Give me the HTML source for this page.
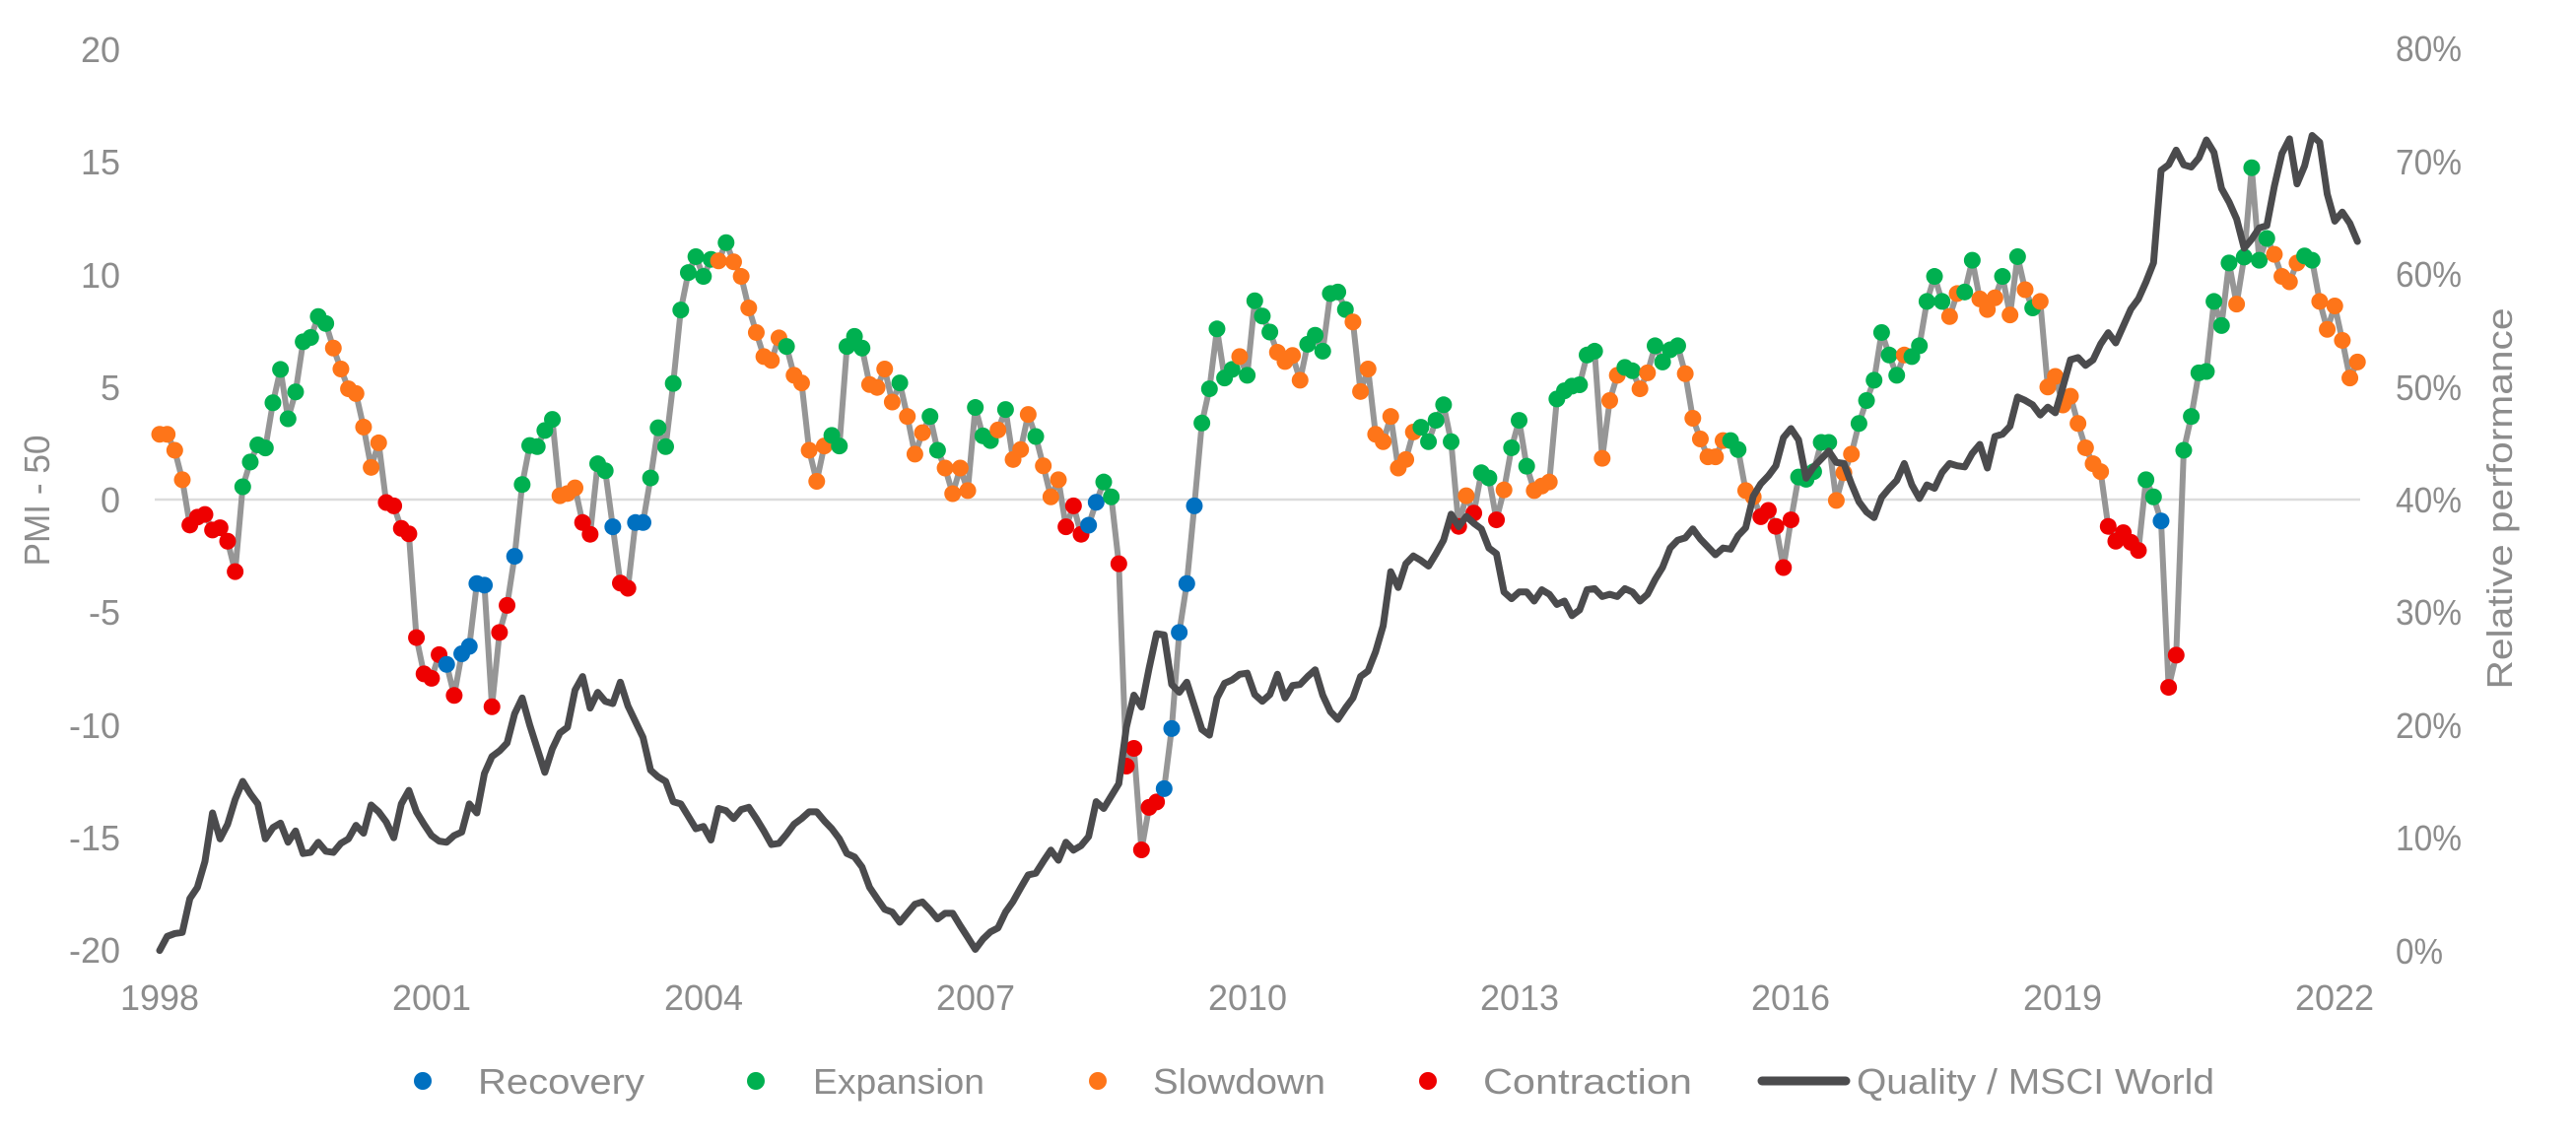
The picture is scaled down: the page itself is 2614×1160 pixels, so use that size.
<!DOCTYPE html>
<html><head><meta charset="utf-8"><style>
html,body{margin:0;padding:0;background:#fff;}
svg{display:block;}
text{font-family:"Liberation Sans",sans-serif;fill:#8c8c8c;font-size:36px;}
.dot{fill:none;stroke-linecap:round;stroke-width:17px;}
.o{stroke:#fe7519}.g{stroke:#00b050}.b{stroke:#0070c0}.r{stroke:#ee0000}
</style></head><body>
<svg width="2614" height="1160" viewBox="0 0 2614 1160" xmlns="http://www.w3.org/2000/svg">
<rect width="2614" height="1160" fill="#fff"/>
<line x1="157" y1="507" x2="2395" y2="507" stroke="#dcdcdc" stroke-width="2.5"/>
<g text-anchor="end">
<text x="122" y="63">20</text>
<text x="122" y="177">15</text>
<text x="122" y="292">10</text>
<text x="122" y="406">5</text>
<text x="122" y="520">0</text>
<text x="122" y="634">-5</text>
<text x="122" y="749">-10</text>
<text x="122" y="863">-15</text>
<text x="122" y="977">-20</text>
</g>
<g>
<text x="2431" y="62" textLength="67" lengthAdjust="spacingAndGlyphs">80%</text>
<text x="2431" y="177" textLength="67" lengthAdjust="spacingAndGlyphs">70%</text>
<text x="2431" y="291" textLength="67" lengthAdjust="spacingAndGlyphs">60%</text>
<text x="2431" y="406" textLength="67" lengthAdjust="spacingAndGlyphs">50%</text>
<text x="2431" y="520" textLength="67" lengthAdjust="spacingAndGlyphs">40%</text>
<text x="2431" y="634" textLength="67" lengthAdjust="spacingAndGlyphs">30%</text>
<text x="2431" y="749" textLength="67" lengthAdjust="spacingAndGlyphs">20%</text>
<text x="2431" y="863" textLength="67" lengthAdjust="spacingAndGlyphs">10%</text>
<text x="2431" y="978" textLength="48" lengthAdjust="spacingAndGlyphs">0%</text>
</g>
<text transform="translate(50 508) rotate(-90)" text-anchor="middle" textLength="133" lengthAdjust="spacingAndGlyphs">PMI - 50</text>
<text transform="translate(2549 506) rotate(-90)" text-anchor="middle" textLength="387" lengthAdjust="spacingAndGlyphs">Relative performance</text>
<g text-anchor="middle">
<text x="162" y="1025">1998</text>
<text x="438" y="1025">2001</text>
<text x="714" y="1025">2004</text>
<text x="990" y="1025">2007</text>
<text x="1266" y="1025">2010</text>
<text x="1542" y="1025">2013</text>
<text x="1817" y="1025">2016</text>
<text x="2093" y="1025">2019</text>
<text x="2369" y="1025">2022</text>
</g>
<g transform="translate(162 507) scale(7.664 -22.85)">
<polyline fill="none" stroke="#969696" stroke-width="6" stroke-linejoin="round" vector-effect="non-scaling-stroke" points="0,2.9 1,2.9 2,2.19 3,.88 4,-1.13 5,-.78 6,-.66 7,-1.35 8,-1.25 9,-1.85 10,-3.2 11,.57 12,1.67 13,2.43 14,2.29 15,4.3 16,5.78 17,3.59 18,4.78 19,7.01 20,7.2 21,8.13 22,7.82 23,6.73 24,5.8 25,4.92 26,4.71 27,3.22 28,1.43 29,2.52 30,-.13 31,-.28 32,-1.28 33,-1.52 34,-6.13 35,-7.74 36,-7.94 37,-6.89 38,-7.32 39,-8.7 40,-6.85 41,-6.52 42,-3.73 43,-3.8 44,-9.2 45,-5.9 46,-4.7 47,-2.52 48,.67 49,2.4 50,2.35 51,3.07 52,3.56 53,.17 54,.27 55,.52 56,-1.02 57,-1.54 58,1.59 59,1.28 60,-1.21 61,-3.71 62,-3.94 63,-1.02 64,-1.02 65,.96 66,3.19 67,2.35 68,5.16 69,8.42 70,10.08 71,10.79 72,9.91 73,10.67 74,10.6 75,11.41 76,10.56 77,9.91 78,8.51 79,7.42 80,6.35 81,6.18 82,7.18 83,6.8 84,5.52 85,5.18 86,2.19 87,.81 88,2.38 89,2.85 90,2.38 91,6.8 92,7.25 93,6.73 94,5.11 95,4.98 96,5.8 97,4.33 98,5.18 99,3.69 100,2.02 101,2.97 102,3.69 103,2.19 104,1.4 105,.26 106,1.4 107,.4 108,4.09 109,2.83 110,2.62 111,3.09 112,4 113,1.78 114,2.22 115,3.78 116,2.8 117,1.5 118,.12 119,.88 120,-1.21 121,-.28 122,-1.54 123,-1.14 124,-.12 125,.78 126,.12 127,-2.85 128,-11.84 129,-11.05 130,-15.56 131,-13.67 132,-13.43 133,-12.84 134,-10.17 135,-5.9 136,-3.73 137,-.28 138,3.4 139,4.92 140,7.58 141,5.4 142,5.78 143,6.35 144,5.52 145,8.83 146,8.15 147,7.44 148,6.54 149,6.13 150,6.4 151,5.3 152,6.9 153,7.3 154,6.59 155,9.15 156,9.22 157,8.44 158,7.89 159,4.8 160,5.8 161,2.9 162,2.57 163,3.69 164,1.4 165,1.78 166,3 167,3.21 168,2.57 169,3.52 170,4.21 171,2.57 172,-1.19 173,.17 174,-.6 175,1.19 176,.96 177,-.9 178,.43 179,2.3 180,3.52 181,1.48 182,.4 183,.6 184,.78 185,4.47 186,4.83 187,5.04 188,5.1 189,6.42 190,6.59 191,1.83 192,4.4 193,5.52 194,5.87 195,5.72 196,4.92 197,5.63 198,6.83 199,6.11 200,6.65 201,6.83 202,5.59 203,3.61 204,2.69 205,1.9 206,1.9 207,2.62 208,2.62 209,2.22 210,.4 211,.12 212,-.76 213,-.48 214,-1.19 215,-3.02 216,-.9 217,1 218,.9 219,1.24 220,2.54 221,2.54 222,-.04 223,1.19 224,2.02 225,3.38 226,4.4 227,5.3 228,7.42 229,6.42 230,5.52 231,6.42 232,6.35 233,6.83 234,8.8 235,9.91 236,8.8 237,8.13 238,9.15 239,9.22 240,10.63 241,8.91 242,8.44 243,8.96 244,9.91 245,8.2 246,10.79 247,9.32 248,8.51 249,8.8 250,5 251,5.47 252,4.2 253,4.59 254,3.38 255,2.3 256,1.59 257,1.24 258,-1.19 259,-1.85 260,-1.47 261,-1.9 262,-2.26 263,.88 264,.12 265,-.95 266,-8.34 267,-6.91 268,2.19 269,3.69 270,5.63 271,5.69 272,8.8 273,7.73 274,10.51 275,8.68 276,10.77 277,14.74 278,10.63 279,11.6 280,10.89 281,9.91 282,9.67 283,10.51 284,10.82 285,10.63 286,8.8 287,7.56 288,8.6 289,7.07 290,5.4 291,6.11"/>
<g>
<path class="dot o" vector-effect="non-scaling-stroke" d="M0 2.9h.001M1 2.9h.001M2 2.19h.001M3 .88h.001"/>
<path class="dot r" vector-effect="non-scaling-stroke" d="M4 -1.13h.001M5 -.78h.001M6 -.66h.001M7 -1.35h.001M8 -1.25h.001M9 -1.85h.001M10 -3.2h.001"/>
<path class="dot g" vector-effect="non-scaling-stroke" d="M11 .57h.001M12 1.67h.001M13 2.43h.001M14 2.29h.001M15 4.3h.001M16 5.78h.001M17 3.59h.001M18 4.78h.001M19 7.01h.001M20 7.2h.001M21 8.13h.001M22 7.82h.001"/>
<path class="dot o" vector-effect="non-scaling-stroke" d="M23 6.73h.001M24 5.8h.001M25 4.92h.001M26 4.71h.001M27 3.22h.001M28 1.43h.001M29 2.52h.001"/>
<path class="dot r" vector-effect="non-scaling-stroke" d="M30 -.13h.001M31 -.28h.001M32 -1.28h.001M33 -1.52h.001M34 -6.13h.001M35 -7.74h.001M36 -7.94h.001M37 -6.89h.001"/>
<path class="dot b" vector-effect="non-scaling-stroke" d="M38 -7.32h.001"/>
<path class="dot r" vector-effect="non-scaling-stroke" d="M39 -8.7h.001"/>
<path class="dot b" vector-effect="non-scaling-stroke" d="M40 -6.85h.001M41 -6.52h.001M42 -3.73h.001M43 -3.8h.001"/>
<path class="dot r" vector-effect="non-scaling-stroke" d="M44 -9.2h.001M45 -5.9h.001M46 -4.7h.001"/>
<path class="dot b" vector-effect="non-scaling-stroke" d="M47 -2.52h.001"/>
<path class="dot g" vector-effect="non-scaling-stroke" d="M48 .67h.001M49 2.4h.001M50 2.35h.001M51 3.07h.001M52 3.56h.001"/>
<path class="dot o" vector-effect="non-scaling-stroke" d="M53 .17h.001M54 .27h.001M55 .52h.001"/>
<path class="dot r" vector-effect="non-scaling-stroke" d="M56 -1.02h.001M57 -1.54h.001"/>
<path class="dot g" vector-effect="non-scaling-stroke" d="M58 1.59h.001M59 1.28h.001"/>
<path class="dot b" vector-effect="non-scaling-stroke" d="M60 -1.21h.001"/>
<path class="dot r" vector-effect="non-scaling-stroke" d="M61 -3.71h.001M62 -3.94h.001"/>
<path class="dot b" vector-effect="non-scaling-stroke" d="M63 -1.02h.001M64 -1.02h.001"/>
<path class="dot g" vector-effect="non-scaling-stroke" d="M65 .96h.001M66 3.19h.001M67 2.35h.001M68 5.16h.001M69 8.42h.001M70 10.08h.001M71 10.79h.001M72 9.91h.001M73 10.67h.001"/>
<path class="dot o" vector-effect="non-scaling-stroke" d="M74 10.6h.001"/>
<path class="dot g" vector-effect="non-scaling-stroke" d="M75 11.41h.001"/>
<path class="dot o" vector-effect="non-scaling-stroke" d="M76 10.56h.001M77 9.91h.001M78 8.51h.001M79 7.42h.001M80 6.35h.001M81 6.18h.001M82 7.18h.001"/>
<path class="dot g" vector-effect="non-scaling-stroke" d="M83 6.8h.001"/>
<path class="dot o" vector-effect="non-scaling-stroke" d="M84 5.52h.001M85 5.18h.001M86 2.19h.001M87 .81h.001M88 2.38h.001"/>
<path class="dot g" vector-effect="non-scaling-stroke" d="M89 2.85h.001M90 2.38h.001M91 6.8h.001M92 7.25h.001M93 6.73h.001"/>
<path class="dot o" vector-effect="non-scaling-stroke" d="M94 5.11h.001M95 4.98h.001M96 5.8h.001M97 4.33h.001"/>
<path class="dot g" vector-effect="non-scaling-stroke" d="M98 5.18h.001"/>
<path class="dot o" vector-effect="non-scaling-stroke" d="M99 3.69h.001M100 2.02h.001M101 2.97h.001"/>
<path class="dot g" vector-effect="non-scaling-stroke" d="M102 3.69h.001M103 2.19h.001"/>
<path class="dot o" vector-effect="non-scaling-stroke" d="M104 1.4h.001M105 .26h.001M106 1.4h.001M107 .4h.001"/>
<path class="dot g" vector-effect="non-scaling-stroke" d="M108 4.09h.001M109 2.83h.001M110 2.62h.001"/>
<path class="dot o" vector-effect="non-scaling-stroke" d="M111 3.09h.001"/>
<path class="dot g" vector-effect="non-scaling-stroke" d="M112 4h.001"/>
<path class="dot o" vector-effect="non-scaling-stroke" d="M113 1.78h.001M114 2.22h.001M115 3.78h.001"/>
<path class="dot g" vector-effect="non-scaling-stroke" d="M116 2.8h.001"/>
<path class="dot o" vector-effect="non-scaling-stroke" d="M117 1.5h.001M118 .12h.001M119 .88h.001"/>
<path class="dot r" vector-effect="non-scaling-stroke" d="M120 -1.21h.001M121 -.28h.001M122 -1.54h.001"/>
<path class="dot b" vector-effect="non-scaling-stroke" d="M123 -1.14h.001M124 -.12h.001"/>
<path class="dot g" vector-effect="non-scaling-stroke" d="M125 .78h.001M126 .12h.001"/>
<path class="dot r" vector-effect="non-scaling-stroke" d="M127 -2.85h.001M128 -11.84h.001M129 -11.05h.001M130 -15.56h.001M131 -13.67h.001M132 -13.43h.001"/>
<path class="dot b" vector-effect="non-scaling-stroke" d="M133 -12.84h.001M134 -10.17h.001M135 -5.9h.001M136 -3.73h.001M137 -.28h.001"/>
<path class="dot g" vector-effect="non-scaling-stroke" d="M138 3.4h.001M139 4.92h.001M140 7.58h.001M141 5.4h.001M142 5.78h.001"/>
<path class="dot o" vector-effect="non-scaling-stroke" d="M143 6.35h.001"/>
<path class="dot g" vector-effect="non-scaling-stroke" d="M144 5.52h.001M145 8.83h.001M146 8.15h.001M147 7.44h.001"/>
<path class="dot o" vector-effect="non-scaling-stroke" d="M148 6.54h.001M149 6.13h.001M150 6.4h.001M151 5.3h.001"/>
<path class="dot g" vector-effect="non-scaling-stroke" d="M152 6.9h.001M153 7.3h.001M154 6.59h.001M155 9.15h.001M156 9.22h.001M157 8.44h.001"/>
<path class="dot o" vector-effect="non-scaling-stroke" d="M158 7.89h.001M159 4.8h.001M160 5.8h.001M161 2.9h.001M162 2.57h.001M163 3.69h.001M164 1.4h.001M165 1.78h.001M166 3h.001"/>
<path class="dot g" vector-effect="non-scaling-stroke" d="M167 3.21h.001M168 2.57h.001M169 3.52h.001M170 4.21h.001M171 2.57h.001"/>
<path class="dot r" vector-effect="non-scaling-stroke" d="M172 -1.19h.001"/>
<path class="dot o" vector-effect="non-scaling-stroke" d="M173 .17h.001"/>
<path class="dot r" vector-effect="non-scaling-stroke" d="M174 -.6h.001"/>
<path class="dot g" vector-effect="non-scaling-stroke" d="M175 1.19h.001M176 .96h.001"/>
<path class="dot r" vector-effect="non-scaling-stroke" d="M177 -.9h.001"/>
<path class="dot o" vector-effect="non-scaling-stroke" d="M178 .43h.001"/>
<path class="dot g" vector-effect="non-scaling-stroke" d="M179 2.3h.001M180 3.52h.001M181 1.48h.001"/>
<path class="dot o" vector-effect="non-scaling-stroke" d="M182 .4h.001M183 .6h.001M184 .78h.001"/>
<path class="dot g" vector-effect="non-scaling-stroke" d="M185 4.47h.001M186 4.83h.001M187 5.04h.001M188 5.1h.001M189 6.42h.001M190 6.59h.001"/>
<path class="dot o" vector-effect="non-scaling-stroke" d="M191 1.83h.001M192 4.4h.001M193 5.52h.001"/>
<path class="dot g" vector-effect="non-scaling-stroke" d="M194 5.87h.001M195 5.72h.001"/>
<path class="dot o" vector-effect="non-scaling-stroke" d="M196 4.92h.001M197 5.63h.001"/>
<path class="dot g" vector-effect="non-scaling-stroke" d="M198 6.83h.001M199 6.11h.001M200 6.65h.001M201 6.83h.001"/>
<path class="dot o" vector-effect="non-scaling-stroke" d="M202 5.59h.001M203 3.61h.001M204 2.69h.001M205 1.9h.001M206 1.9h.001M207 2.62h.001"/>
<path class="dot g" vector-effect="non-scaling-stroke" d="M208 2.62h.001M209 2.22h.001"/>
<path class="dot o" vector-effect="non-scaling-stroke" d="M210 .4h.001M211 .12h.001"/>
<path class="dot r" vector-effect="non-scaling-stroke" d="M212 -.76h.001M213 -.48h.001M214 -1.19h.001M215 -3.02h.001M216 -.9h.001"/>
<path class="dot g" vector-effect="non-scaling-stroke" d="M217 1h.001M218 .9h.001M219 1.24h.001M220 2.54h.001M221 2.54h.001"/>
<path class="dot o" vector-effect="non-scaling-stroke" d="M222 -.04h.001M223 1.19h.001M224 2.02h.001"/>
<path class="dot g" vector-effect="non-scaling-stroke" d="M225 3.38h.001M226 4.4h.001M227 5.3h.001M228 7.42h.001M229 6.42h.001M230 5.52h.001"/>
<path class="dot o" vector-effect="non-scaling-stroke" d="M231 6.42h.001"/>
<path class="dot g" vector-effect="non-scaling-stroke" d="M232 6.35h.001M233 6.83h.001M234 8.8h.001M235 9.91h.001M236 8.8h.001"/>
<path class="dot o" vector-effect="non-scaling-stroke" d="M237 8.13h.001M238 9.15h.001"/>
<path class="dot g" vector-effect="non-scaling-stroke" d="M239 9.22h.001M240 10.63h.001"/>
<path class="dot o" vector-effect="non-scaling-stroke" d="M241 8.91h.001M242 8.44h.001M243 8.96h.001"/>
<path class="dot g" vector-effect="non-scaling-stroke" d="M244 9.91h.001"/>
<path class="dot o" vector-effect="non-scaling-stroke" d="M245 8.2h.001"/>
<path class="dot g" vector-effect="non-scaling-stroke" d="M246 10.79h.001"/>
<path class="dot o" vector-effect="non-scaling-stroke" d="M247 9.32h.001"/>
<path class="dot g" vector-effect="non-scaling-stroke" d="M248 8.51h.001"/>
<path class="dot o" vector-effect="non-scaling-stroke" d="M249 8.8h.001M250 5h.001M251 5.47h.001M252 4.2h.001M253 4.59h.001M254 3.38h.001M255 2.3h.001M256 1.59h.001M257 1.24h.001"/>
<path class="dot r" vector-effect="non-scaling-stroke" d="M258 -1.19h.001M259 -1.85h.001M260 -1.47h.001M261 -1.9h.001M262 -2.26h.001"/>
<path class="dot g" vector-effect="non-scaling-stroke" d="M263 .88h.001M264 .12h.001"/>
<path class="dot b" vector-effect="non-scaling-stroke" d="M265 -.95h.001"/>
<path class="dot r" vector-effect="non-scaling-stroke" d="M266 -8.34h.001M267 -6.91h.001"/>
<path class="dot g" vector-effect="non-scaling-stroke" d="M268 2.19h.001M269 3.69h.001M270 5.63h.001M271 5.69h.001M272 8.8h.001M273 7.73h.001M274 10.51h.001"/>
<path class="dot o" vector-effect="non-scaling-stroke" d="M275 8.68h.001"/>
<path class="dot g" vector-effect="non-scaling-stroke" d="M276 10.77h.001M277 14.74h.001M278 10.63h.001M279 11.6h.001"/>
<path class="dot o" vector-effect="non-scaling-stroke" d="M280 10.89h.001M281 9.91h.001M282 9.67h.001M283 10.51h.001"/>
<path class="dot g" vector-effect="non-scaling-stroke" d="M284 10.82h.001M285 10.63h.001"/>
<path class="dot o" vector-effect="non-scaling-stroke" d="M286 8.8h.001M287 7.56h.001M288 8.6h.001M289 7.07h.001M290 5.4h.001M291 6.11h.001"/>
</g>
</g>
<g transform="translate(162 964.6) scale(7.664 -11.44)">
<polyline fill="none" stroke="#4b4b4d" stroke-width="7" stroke-linejoin="round" stroke-linecap="round" vector-effect="non-scaling-stroke" points="0,0 1,1.25 2,1.5 3,1.6 4,4.6 5,5.6 6,7.9 7,12.2 8,9.9 9,11.2 10,13.4 11,15 12,13.9 13,13 14,9.9 15,10.9 16,11.3 17,9.6 18,10.6 19,8.6 20,8.7 21,9.6 22,8.8 23,8.7 24,9.5 25,9.9 26,11.1 27,10.4 28,12.9 29,12.3 30,11.4 31,10 32,13 33,14.2 34,12.3 35,11.2 36,10.2 37,9.7 38,9.6 39,10.2 40,10.5 41,13 42,12.2 43,15.7 44,17.2 45,17.7 46,18.4 47,21 48,22.4 49,20 50,17.9 51,15.8 52,17.9 53,19.3 54,19.8 55,23.1 56,24.3 57,21.5 58,22.9 59,22.1 60,21.9 61,23.8 62,21.7 63,20.3 64,18.9 65,16 66,15.4 67,15 68,13.2 69,13 70,11.9 71,10.8 72,11 73,9.8 74,12.6 75,12.4 76,11.7 77,12.5 78,12.7 79,11.7 80,10.6 81,9.4 82,9.5 83,10.3 84,11.2 85,11.7 86,12.3 87,12.3 88,11.5 89,10.8 90,9.9 91,8.6 92,8.3 93,7.4 94,5.6 95,4.6 96,3.65 97,3.4 98,2.5 99,3.3 100,4.1 101,4.3 102,3.6 103,2.8 104,3.3 105,3.3 106,2.2 107,1.16 108,.1 109,1 110,1.65 111,2 112,3.4 113,4.35 114,5.55 115,6.7 116,6.85 117,7.9 118,8.9 119,8 120,9.6 121,8.9 122,9.3 123,10.1 124,13.2 125,12.6 126,13.7 127,14.8 128,19.8 129,22.65 130,21.6 131,25 132,28.1 133,28 134,23.6 135,22.9 136,23.8 137,21.7 138,19.6 139,19.1 140,22.4 141,23.7 142,24 143,24.5 144,24.6 145,22.7 146,22.1 147,22.7 148,24.5 149,22.4 150,23.5 151,23.6 152,24.3 153,24.9 154,22.65 155,21.2 156,20.5 157,21.5 158,22.4 159,24.3 160,24.8 161,26.5 162,28.8 163,33.6 164,32.2 165,34.3 166,35 167,34.6 168,34.1 169,35.2 170,36.4 171,38.7 172,37.6 173,38.5 174,37.9 175,37.4 176,35.7 177,35.2 178,31.8 179,31.2 180,31.8 181,31.8 182,31 183,32 184,31.6 185,30.7 186,31 187,29.7 188,30.2 189,32 190,32.1 191,31.4 192,31.6 193,31.4 194,32.1 195,31.8 196,31 197,31.6 198,32.9 199,34 200,35.7 201,36.4 202,36.6 203,37.4 204,36.5 205,35.8 206,35.1 207,35.7 208,35.6 209,36.8 210,37.5 211,40.3 212,41.4 213,42.1 214,43 215,45.5 216,46.3 217,45.3 218,41.9 219,42.9 220,43.6 221,44.3 222,43.3 223,43.2 224,41.4 225,39.8 226,38.9 227,38.4 228,40.2 229,41 230,41.7 231,43.2 232,41.3 233,40.1 234,41.3 235,41 236,42.4 237,43.2 238,43 239,42.9 240,44.1 241,44.9 242,42.8 243,45.6 244,45.8 245,46.5 246,49.1 247,48.8 248,48.4 249,47.5 250,48.2 251,47.7 252,50 253,52.4 254,52.6 255,51.9 256,52.4 257,53.8 258,54.8 259,53.9 260,55.4 261,56.9 262,57.8 263,59.3 264,61 265,69.2 266,69.7 267,71 268,69.7 269,69.5 270,70.3 271,71.9 272,70.8 273,67.6 274,66.4 275,64.9 276,62.3 277,63.1 278,64.1 279,64.3 280,67.8 281,70.7 282,72 283,68 284,69.6 285,72.3 286,71.7 287,67.1 288,64.7 289,65.5 290,64.5 291,62.9"/>
</g>
<circle cx="429" cy="1097" r="9" fill="#0070c0"/>
<text x="485" y="1110" textLength="169" lengthAdjust="spacingAndGlyphs">Recovery</text>
<circle cx="767" cy="1097" r="9" fill="#00b050"/>
<text x="825" y="1110" textLength="174" lengthAdjust="spacingAndGlyphs">Expansion</text>
<circle cx="1114" cy="1097" r="9" fill="#fe7519"/>
<text x="1170" y="1110" textLength="175" lengthAdjust="spacingAndGlyphs">Slowdown</text>
<circle cx="1449" cy="1097" r="9" fill="#ee0000"/>
<text x="1505" y="1110" textLength="212" lengthAdjust="spacingAndGlyphs">Contraction</text>
<line x1="1788" y1="1097" x2="1873" y2="1097" stroke="#4b4b4d" stroke-width="9" stroke-linecap="round"/>
<text x="1884" y="1110" textLength="363" lengthAdjust="spacingAndGlyphs">Quality / MSCI World</text>
</svg>
</body></html>
